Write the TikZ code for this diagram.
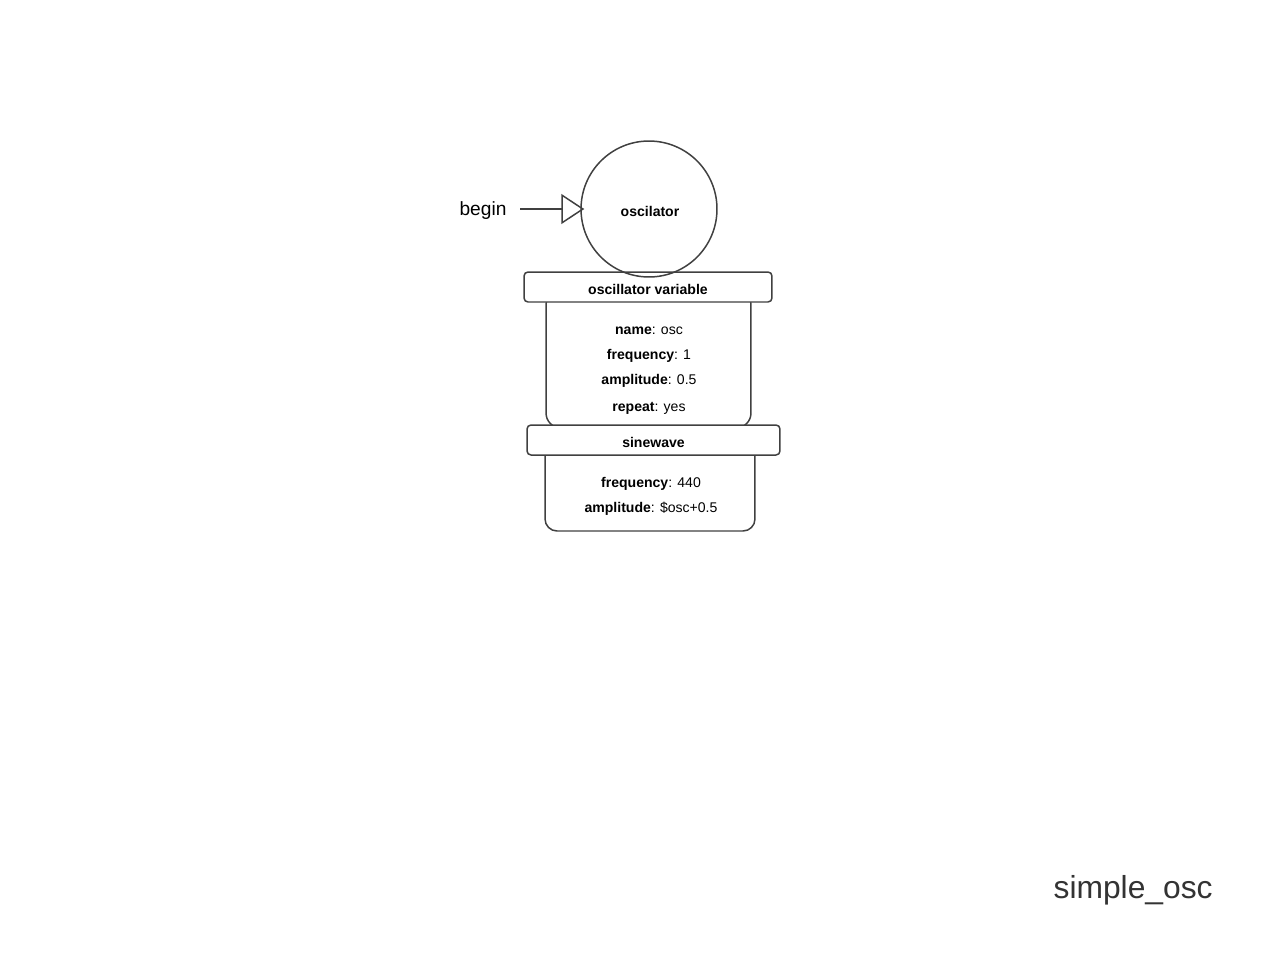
\documentclass[tikz,border=0pt]{standalone}
\usepackage{fontspec}
\setmainfont{Liberation Sans}
\usetikzlibrary{arrows.meta}
\usetikzlibrary{positioning}
\definecolor{edgegray}{HTML}{404040}
\definecolor{titlegray}{HTML}{333333}
\tikzset{>=latex}
\tikzset{state/.style = {circle, draw=edgegray, line width=0.85pt, minimum size=2.72cm, inner sep=0, font=\fontsize{8}{9}\selectfont\bfseries}}
\tikzset{header/.style = {draw=edgegray, fill=white, line width=0.85pt, rounded corners=0.08cm, minimum height=0.6cm, inner sep=0, font=\fontsize{8}{9}\selectfont\bfseries}}
\tikzset{body/.style = {draw=edgegray, line width=0.85pt, rounded corners=0.3cm, inner sep=0}}
\tikzset{field/.style = {inner sep=0, font=\fontsize{8}{9}\selectfont}}

\begin{document}
\begin{tikzpicture}[x=0.02cm, y=-0.02cm]
\useasboundingbox (0, 0) rectangle (1280, 960);
% oscillator variable
\node [body, minimum width=4.1cm, minimum height=2.76cm] (varbody) at (648.5, 359) {};
\node [header, minimum width=4.96cm] (varhead) at (648, 287) {};
\node [inner sep = 0, font=\fontsize{8}{9}\selectfont\bfseries] (varname) at (648, 289) {oscillator variable};
\node [field] (vname) at (649, 331) {\textbf{name}: osc};
\node [field] (vfreq) at (649, 356) {\textbf{frequency}: 1};
\node [field] (vamp) at (649, 381) {\textbf{amplitude}: 0.5};
\node [field] (vrep) at (649, 408) {\textbf{repeat}: yes};
% sinewave
\node [body, rounded corners=0.24cm, minimum width=4.2cm, minimum height=1.72cm] (sinebody) at (650, 488) {};
\node [header, minimum width=5.06cm] (sinehead) at (653.5, 440) {};
\node [inner sep = 0, font=\fontsize{8}{9}\selectfont\bfseries] (sinename) at (653.5, 442) {sinewave};
\node [field] (sfreq) at (651, 484) {\textbf{frequency}: 440};
\node [field] (samp) at (651, 509) {\textbf{amplitude}: \$osc+0.5};
% start arrow
\node [inner sep = 0, font=\fontsize{10.9}{12}\selectfont] (begin) at (483, 211) {begin};
\node [state] (osc) at (649, 209) {};
\node [inner sep = 0, font=\fontsize{8}{9}\selectfont\bfseries] (oscname) at (650, 211) {oscilator};
\coordinate (start) at (520, 209);
\draw [edgegray, line width=0.85pt, -{Triangle[open, length=0.46cm, width=0.6cm]}, shorten >= -4*0.02cm] (start) -- (osc.west);
% title
\node [inner sep = 0, anchor=east, text=titlegray, font=\fontsize{18.1}{20}\selectfont] (title) at (1213, 890) {simple\_osc};
\end{tikzpicture}
\end{document}
